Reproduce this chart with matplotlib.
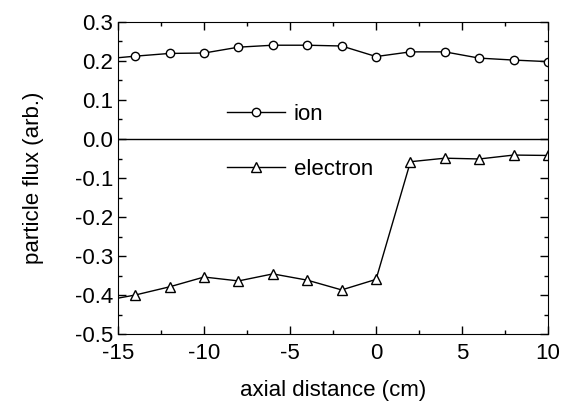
import matplotlib
matplotlib.use('Agg')
import matplotlib.pyplot as plt
from matplotlib.ticker import MultipleLocator

plt.rcParams['font.family'] = 'Liberation Sans'
plt.rcParams.update({'font.size': 16})
plt.rcParams['axes.unicode_minus'] = False

# axial positions (cm); first point lies just outside the frame
axial = [-16, -14, -12, -10, -8, -6, -4, -2, 0, 2, 4, 6, 8, 10]
ion_flux = [0.204, 0.212, 0.219, 0.220, 0.235, 0.240, 0.240, 0.238,
            0.211, 0.223, 0.223, 0.207, 0.202, 0.198]
electron_flux = [-0.415, -0.399, -0.378, -0.353, -0.363, -0.345, -0.361, -0.386,
                 -0.359, -0.058, -0.049, -0.051, -0.041, -0.042]

fig = plt.figure(figsize=(5.65, 4.03), dpi=100)
ax = fig.add_axes([0.209, 0.170, 0.761, 0.776])

ax.plot(axial, ion_flux, color='black', lw=1, marker='o', ms=6,
        mfc='white', mec='black', mew=1, label='ion')
ax.plot(axial, electron_flux, color='black', lw=1, marker='^', ms=7,
        mfc='white', mec='black', mew=1, label='electron')
ax.axhline(0, color='black', lw=1)

ax.set_xlim(-15, 10)
ax.set_ylim(-0.5, 0.3)
ax.xaxis.set_major_locator(MultipleLocator(5))
ax.xaxis.set_minor_locator(MultipleLocator(2.5))
ax.yaxis.set_major_locator(MultipleLocator(0.1))
ax.yaxis.set_minor_locator(MultipleLocator(0.05))
ax.yaxis.set_major_formatter(plt.FuncFormatter(lambda v, p: f"{v:.1f}"))
ax.tick_params(which='both', direction='in', top=True, right=True)
ax.tick_params(which='major', length=6, width=1)
ax.tick_params(which='minor', length=3, width=1)
ax.tick_params(axis='x', pad=6)

ax.set_xlabel('axial distance (cm)', labelpad=12)
ax.set_ylabel('particle flux (arb.)', labelpad=22)

ax.legend(loc='upper left', bbox_to_anchor=(0.233, 0.765), frameon=False,
          handlelength=2.6, handletextpad=0.4, labelspacing=1.52,
          borderaxespad=0)

fig.savefig('out.png', dpi=100)
